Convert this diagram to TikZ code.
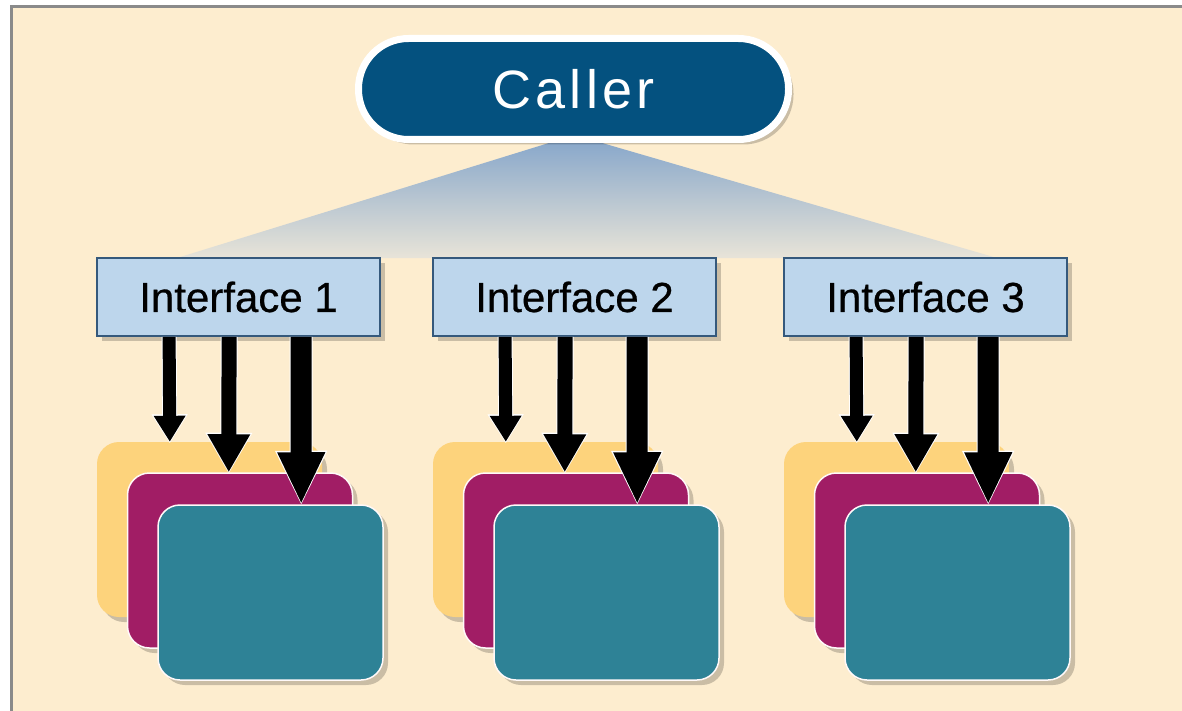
\documentclass[tikz,border=0pt]{standalone}
\usepackage{fontspec}
\setmainfont{Liberation Sans}
\newfontfamily\callerfont[LetterSpace=8]{Liberation Sans}
\newfontfamily\ifacefont[FakeBold=0.6]{Liberation Sans}
\usetikzlibrary{shadows,arrows.meta}
\definecolor{bg}{HTML}{FDEDCF}
\definecolor{framegray}{HTML}{8A8A8A}
\definecolor{callerblue}{HTML}{04517F}
\definecolor{ifacefill}{HTML}{BDD6EC}
\definecolor{ifaceedge}{HTML}{35597C}
\definecolor{fantop}{HTML}{86A6CA}
\definecolor{fanbot}{HTML}{E8E4D8}
\definecolor{cyellow}{HTML}{FDD37C}
\definecolor{cmagenta}{HTML}{A11D65}
\definecolor{cteal}{HTML}{2E8296}
\tikzset{
  shad/.style={drop shadow={shadow xshift=5pt,shadow yshift=-5pt,opacity=0.2,fill=black}},
  caller/.style={shape=rectangle, fill=callerblue, draw=white, line width=7pt,
    rounded corners=50pt, minimum width=430pt, minimum height=101pt,
    text=white, font=\callerfont\fontsize{54}{60}\selectfont, shad},
  iface/.style={shape=rectangle, fill=ifacefill, draw=ifaceedge, line width=1.8pt,
    minimum width=283pt, minimum height=78pt, inner sep=0pt,
    font=\ifacefont\fontsize{42}{48}\selectfont, shad},
  card/.style={shape=rectangle, rounded corners=22pt, minimum width=225pt,
    minimum height=175pt, inner sep=0pt, shad},
  cardedge/.style={draw=white!90!pink, line width=1.5pt},
  arrA/.style={line width=13pt, -{Triangle[length=26pt,width=30pt]}},
  arrB/.style={line width=15pt, -{Triangle[length=38pt,width=40pt]}},
  arrC/.style={line width=21pt, -{Triangle[length=52pt,width=44pt]}},
  arrAw/.style={white, line width=15pt, shorten >=-1.5pt, -{Triangle[length=29pt,width=34pt]}},
  arrBw/.style={white, line width=17pt, shorten >=-1.5pt, -{Triangle[length=41pt,width=44pt]}},
  arrCw/.style={white, line width=23pt, shorten >=-1.5pt, -{Triangle[length=55pt,width=48pt]}},
}
\begin{document}
\begin{tikzpicture}[x=1pt,y=-1pt]
\useasboundingbox (0,0) rectangle (1182,711);
\fill[white] (0,0) rectangle (1182,711);
\fill[bg] (11,7) rectangle (1182,711);
\draw[framegray, line width=3pt] (11,711) -- (11,7) -- (1182,7);

% fan
\shade[top color=fantop, bottom color=fanbot] (565,138) -- (585,138) -- (997,258) -- (177,258) -- cycle;

% caller
\node[caller] (caller) at (573.5,89) {Caller};

% interfaces
\foreach \g/\n in {0/1,336/2,687/3}{
  \node[iface] (i\n) at (238.5+\g,297) {Interface \n};
}

% cards
\foreach \g/\n in {0/1,336/2,687/3}{
  \node[card, fill=cyellow] (y\n) at (209.5+\g,529.5) {};
  \node[card, fill=cmagenta, cardedge] (m\n) at (240+\g,560.5) {};
  \node[card, fill=cteal, cardedge] (t\n) at (270.5+\g,592.5) {};
}

% arrows
\foreach \n in {1,2,3}{
  \draw[arrAw] ([xshift=73pt]i\n.south west) -- ([xshift=73pt]y\n.north west);
  \draw[arrBw] ([xshift=133pt]i\n.south west) -- ([xshift=102pt]m\n.north west);
  \draw[arrCw] ([xshift=205pt]i\n.south west) -- ([xshift=144pt]t\n.north west);
  \draw[arrA] ([xshift=73pt]i\n.south west) -- ([xshift=73pt]y\n.north west);
  \draw[arrB] ([xshift=133pt]i\n.south west) -- ([xshift=102pt]m\n.north west);
  \draw[arrC] ([xshift=205pt]i\n.south west) -- ([xshift=144pt]t\n.north west);
}
\end{tikzpicture}
\end{document}
